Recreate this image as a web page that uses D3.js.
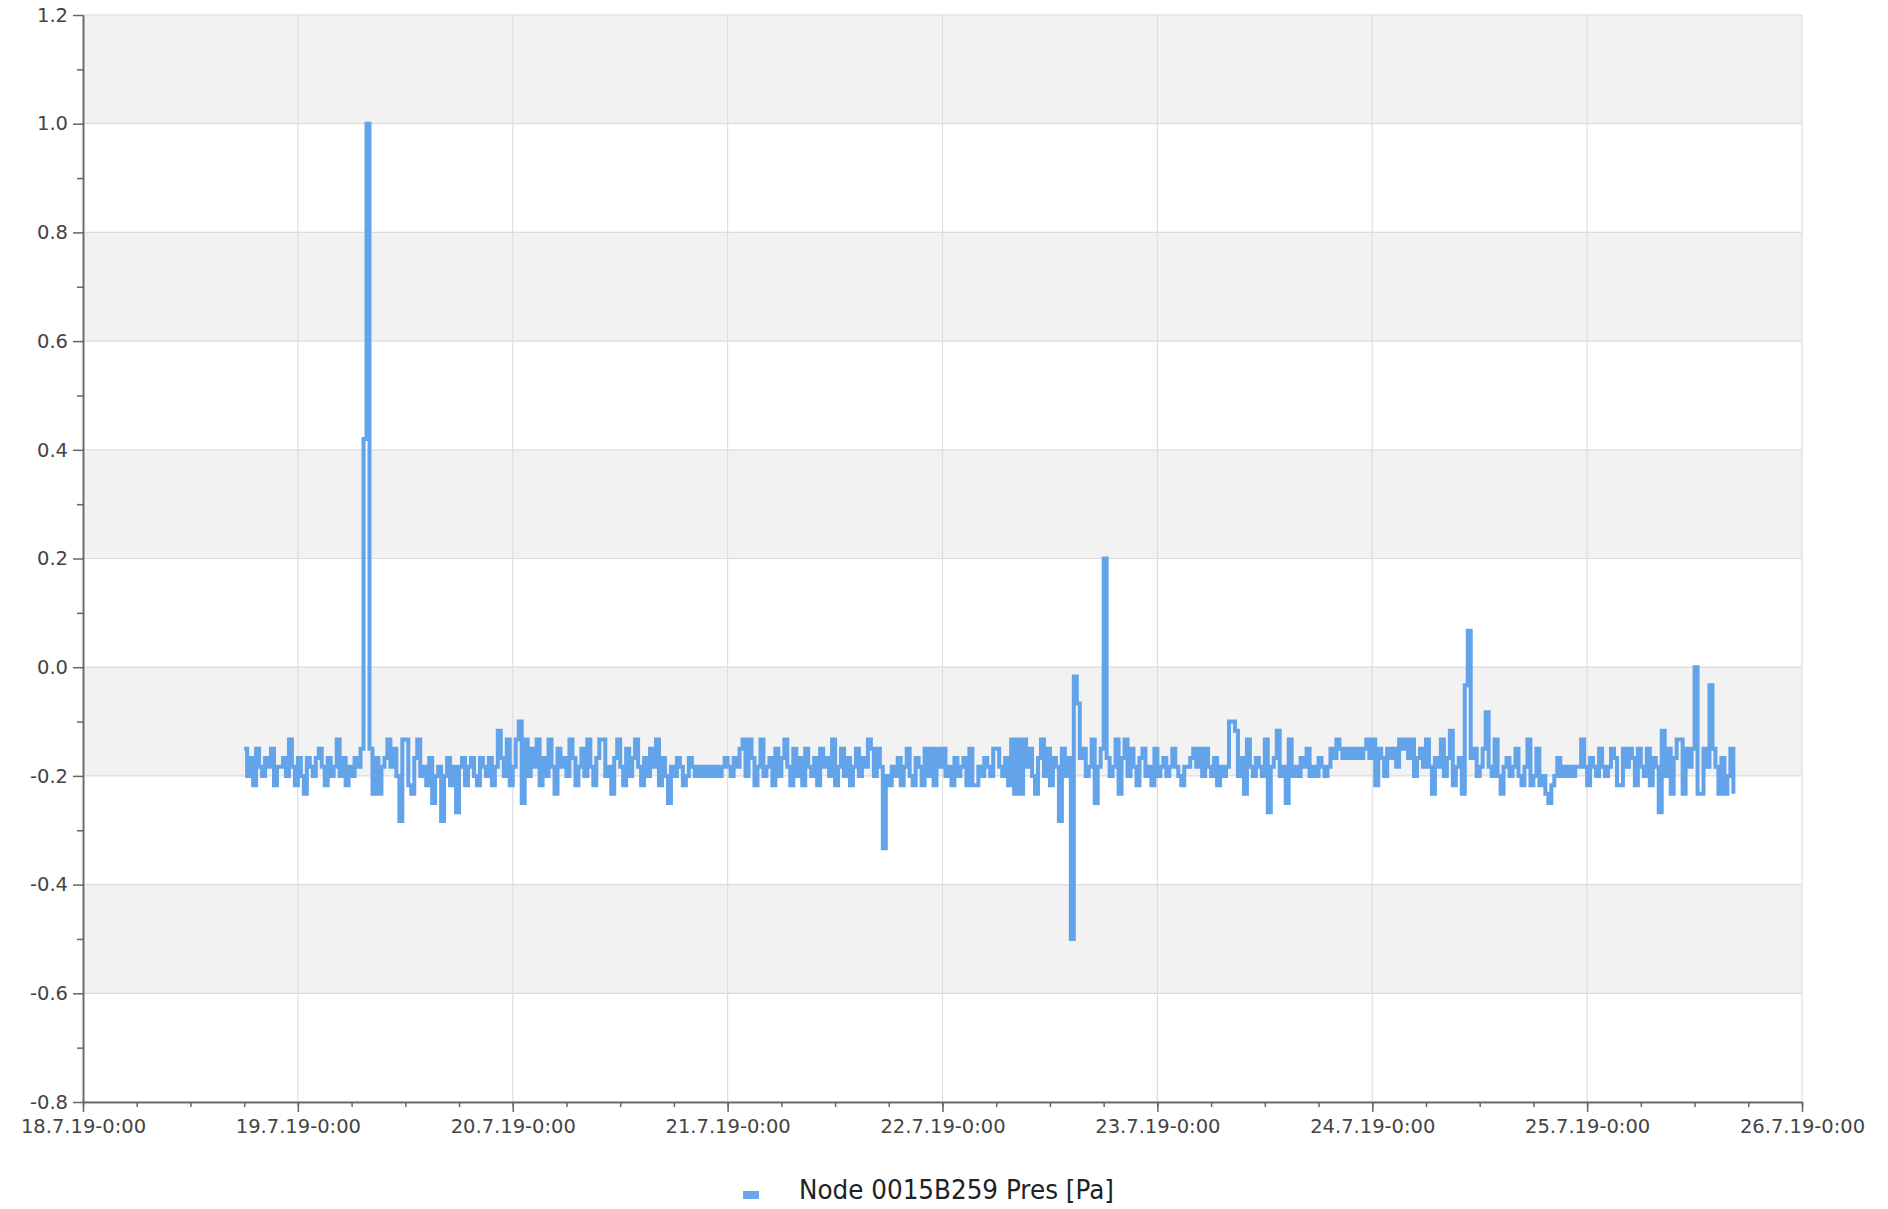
<!DOCTYPE html>
<html>
<head>
<meta charset="utf-8">
<script src="https://cdn.jsdelivr.net/npm/d3@7"></script>
<style>
    body { margin: 0; background: #fff; }
    svg { display: block; font-family: "DejaVu Sans", sans-serif; }
</style>
</head>
<body>
<script>
const width = 1888;
const height = 1209;

// one sample every 20 minutes, starting 18.7.19 18:00
const seriesName = "Node 0015B259 Pres [Pa]";
const startTime = new Date(2019, 6, 18, 18, 0);
const stepMinutes = 20;

const values = [
    -0.15, -0.2, -0.167, -0.217, -0.15, -0.183, -0.2, -0.167, -0.183, -0.15, -0.217, -0.183,
    -0.183, -0.167, -0.2, -0.133, -0.183, -0.217, -0.167, -0.2, -0.233, -0.167, -0.183, -0.2,
    -0.167, -0.15, -0.183, -0.217, -0.167, -0.2, -0.183, -0.133, -0.2, -0.167, -0.217, -0.183,
    -0.2, -0.167, -0.183, -0.15, 0.42, 1.0, -0.15, -0.233, -0.167, -0.233, -0.183, -0.167,
    -0.133, -0.183, -0.15, -0.2, -0.283, -0.133, -0.133, -0.217, -0.233, -0.167, -0.133, -0.2,
    -0.183, -0.217, -0.167, -0.25, -0.2, -0.183, -0.283, -0.2, -0.167, -0.217, -0.183, -0.267,
    -0.183, -0.167, -0.217, -0.183, -0.167, -0.2, -0.217, -0.167, -0.183, -0.2, -0.167, -0.217,
    -0.183, -0.117, -0.167, -0.2, -0.133, -0.217, -0.183, -0.133, -0.1, -0.25, -0.133, -0.2,
    -0.15, -0.183, -0.133, -0.217, -0.167, -0.2, -0.133, -0.183, -0.233, -0.15, -0.183, -0.167,
    -0.2, -0.133, -0.167, -0.217, -0.183, -0.15, -0.2, -0.133, -0.183, -0.217, -0.167, -0.133,
    -0.133, -0.2, -0.183, -0.233, -0.167, -0.133, -0.183, -0.217, -0.15, -0.2, -0.167, -0.133,
    -0.183, -0.217, -0.167, -0.2, -0.15, -0.183, -0.133, -0.217, -0.167, -0.2, -0.25, -0.183,
    -0.2, -0.167, -0.183, -0.217, -0.2, -0.167, -0.183, -0.2, -0.183, -0.2, -0.183, -0.2,
    -0.183, -0.2, -0.183, -0.2, -0.183, -0.167, -0.183, -0.2, -0.167, -0.183, -0.15, -0.133,
    -0.2, -0.133, -0.167, -0.217, -0.183, -0.133, -0.2, -0.183, -0.167, -0.217, -0.15, -0.2,
    -0.167, -0.133, -0.183, -0.217, -0.15, -0.2, -0.167, -0.217, -0.15, -0.183, -0.2, -0.167,
    -0.217, -0.15, -0.183, -0.167, -0.2, -0.133, -0.217, -0.183, -0.15, -0.2, -0.167, -0.217,
    -0.183, -0.15, -0.2, -0.167, -0.183, -0.133, -0.15, -0.2, -0.15, -0.183, -0.333, -0.2,
    -0.217, -0.183, -0.2, -0.167, -0.217, -0.183, -0.15, -0.2, -0.217, -0.167, -0.183, -0.217,
    -0.15, -0.2, -0.15, -0.217, -0.15, -0.183, -0.15, -0.2, -0.183, -0.217, -0.167, -0.2,
    -0.183, -0.167, -0.217, -0.15, -0.217, -0.217, -0.183, -0.2, -0.167, -0.183, -0.2, -0.15,
    -0.15, -0.183, -0.2, -0.167, -0.217, -0.133, -0.233, -0.133, -0.233, -0.133, -0.183, -0.15,
    -0.2, -0.233, -0.167, -0.133, -0.2, -0.15, -0.217, -0.167, -0.183, -0.283, -0.15, -0.2,
    -0.167, -0.5, -0.017, -0.067, -0.167, -0.15, -0.2, -0.183, -0.133, -0.25, -0.183, -0.15,
    0.2, -0.167, -0.2, -0.183, -0.133, -0.233, -0.167, -0.133, -0.2, -0.15, -0.183, -0.217,
    -0.167, -0.15, -0.2, -0.183, -0.217, -0.15, -0.2, -0.183, -0.167, -0.2, -0.183, -0.15,
    -0.183, -0.2, -0.217, -0.183, -0.183, -0.167, -0.15, -0.183, -0.15, -0.2, -0.15, -0.183,
    -0.2, -0.167, -0.217, -0.183, -0.2, -0.183, -0.1, -0.1, -0.117, -0.2, -0.167, -0.233,
    -0.133, -0.183, -0.2, -0.167, -0.183, -0.2, -0.133, -0.267, -0.183, -0.167, -0.117, -0.2,
    -0.183, -0.25, -0.133, -0.2, -0.183, -0.2, -0.167, -0.183, -0.15, -0.2, -0.183, -0.2,
    -0.167, -0.183, -0.2, -0.183, -0.15, -0.167, -0.133, -0.15, -0.167, -0.15, -0.167, -0.15,
    -0.167, -0.15, -0.167, -0.15, -0.133, -0.167, -0.133, -0.217, -0.15, -0.167, -0.2, -0.15,
    -0.167, -0.15, -0.183, -0.133, -0.15, -0.133, -0.167, -0.133, -0.2, -0.167, -0.15, -0.183,
    -0.133, -0.183, -0.233, -0.167, -0.183, -0.133, -0.2, -0.167, -0.117, -0.217, -0.183, -0.167,
    -0.233, -0.033, 0.067, -0.167, -0.15, -0.2, -0.183, -0.15, -0.083, -0.183, -0.2, -0.133,
    -0.2, -0.233, -0.183, -0.167, -0.2, -0.183, -0.15, -0.2, -0.217, -0.183, -0.133, -0.217,
    -0.2, -0.15, -0.217, -0.2, -0.233, -0.25, -0.217, -0.2, -0.167, -0.2, -0.183, -0.2,
    -0.183, -0.2, -0.183, -0.183, -0.133, -0.183, -0.217, -0.167, -0.183, -0.2, -0.15, -0.183,
    -0.2, -0.183, -0.15, -0.167, -0.217, -0.217, -0.15, -0.183, -0.15, -0.167, -0.217, -0.15,
    -0.183, -0.2, -0.15, -0.217, -0.167, -0.183, -0.267, -0.117, -0.2, -0.15, -0.233, -0.167,
    -0.133, -0.133, -0.233, -0.15, -0.183, -0.15, 0.0, -0.233, -0.233, -0.15, -0.183, -0.033,
    -0.15, -0.183, -0.233, -0.167, -0.233, -0.2, -0.15, -0.233
];

const yTicks = [-0.8, -0.6, -0.4, -0.2, 0.0, 0.2, 0.4, 0.6, 0.8, 1.0, 1.2];
const yTickLabels = ["-0.8", "-0.6", "-0.4", "-0.2", "0.0", "0.2", "0.4", "0.6", "0.8", "1.0", "1.2"];
const yMinorTicks = [-0.7, -0.5, -0.3, -0.1, 0.1, 0.3, 0.5, 0.7, 0.9, 1.1];
// shaded horizontal bands [from, to]
const bands = [[1.0, 1.2], [0.6, 0.8], [0.2, 0.4], [-0.2, 0.0], [-0.6, -0.4]];

const xStart = new Date(2019, 6, 18);
const xEnd = new Date(2019, 6, 26);

const margin = { left: 83, right: 86, top: 15, bottom: 107 };

const svg = d3
    .select("body")
    .append("svg")
    .attr("width", width)
    .attr("height", height);

svg.append("rect")
    .attr("width", width)
    .attr("height", height)
    .attr("fill", "#fff");

const x = d3
    .scaleTime()
    .domain([xStart, xEnd])
    .range([margin.left, width - margin.right]);

const y = d3
    .scaleLinear()
    .domain([-0.8, 1.2])
    .range([height - margin.bottom, margin.top]);

const data = values.map((v, i) => ({
    t: d3.timeMinute.offset(startTime, i * stepMinutes),
    v: v
}));

// Fond : bandes grises
svg.append("g")
    .selectAll("rect")
    .data(bands)
    .join("rect")
    .attr("x", x(xStart))
    .attr("width", x(xEnd) - x(xStart))
    .attr("y", d => y(d[1]))
    .attr("height", d => y(d[0]) - y(d[1]))
    .attr("fill", "#f2f2f2");

// Grille
const days = d3.timeDay.range(xStart, d3.timeDay.offset(xEnd, 1));

svg.append("g")
    .selectAll("line")
    .data(yTicks)
    .join("line")
    .attr("x1", x(xStart))
    .attr("x2", x(xEnd))
    .attr("y1", d => y(d))
    .attr("y2", d => y(d))
    .attr("stroke", "#dcdcdc")
    .attr("stroke-width", 1.2);

svg.append("g")
    .selectAll("line")
    .data(days.slice(1))
    .join("line")
    .attr("x1", d => x(d))
    .attr("x2", d => x(d))
    .attr("y1", y(1.2))
    .attr("y2", y(-0.8))
    .attr("stroke", "#dedede")
    .attr("stroke-width", 1.2);

// SÃ©rie
const line = d3
    .line()
    .x(d => x(d.t))
    .y(d => y(d.v))
    .curve(d3.curveStepAfter);

svg.append("path")
    .datum(data)
    .attr("d", line)
    .attr("fill", "none")
    .attr("stroke", "#62a3e9")
    .attr("stroke-width", 4)
    .attr("stroke-linejoin", "miter");

// Axes
const fmt = d3.timeFormat("%-d.%-m.%y-%-H:%M");

function styleAxis(g) {
    g.attr("font-family", "DejaVu Sans, sans-serif")
        .attr("font-size", 19.5);
    g.select(".domain").attr("stroke", "#666").attr("stroke-width", 1.5);
    g.selectAll(".tick line").attr("stroke", "#666").attr("stroke-width", 1.5);
    g.selectAll(".tick text").attr("fill", "#444");
}

svg.append("g")
    .attr("transform", `translate(0,${y(-0.8)})`)
    .call(d3.axisBottom(x)
        .tickValues(d3.timeHour.every(6).range(xStart, d3.timeHour.offset(xEnd, 1)))
        .tickSize(5)
        .tickSizeOuter(0)
        .tickFormat(""))
    .call(styleAxis);

svg.append("g")
    .attr("transform", `translate(0,${y(-0.8)})`)
    .call(d3.axisBottom(x)
        .tickValues(days)
        .tickSize(10)
        .tickSizeOuter(0)
        .tickPadding(7)
        .tickFormat(fmt))
    .call(styleAxis);

svg.append("g")
    .attr("transform", `translate(${x(xStart)},0)`)
    .call(d3.axisLeft(y)
        .tickValues(yMinorTicks)
        .tickSize(6)
        .tickSizeOuter(0)
        .tickFormat(""))
    .call(styleAxis);

svg.append("g")
    .attr("transform", `translate(${x(xStart)},0)`)
    .call(d3.axisLeft(y)
        .tickValues(yTicks)
        .tickSize(10)
        .tickSizeOuter(0)
        .tickPadding(5)
        .tickFormat((d, i) => yTickLabels[i]))
    .call(styleAxis);

// LÃ©gende
svg.append("rect")
    .attr("x", 743)
    .attr("y", 1191)
    .attr("width", 16)
    .attr("height", 8)
    .attr("fill", "#6aa7ea");

svg.append("text")
    .attr("x", 799)
    .attr("y", 1199)
    .attr("font-size", 26)
    .attr("fill", "#222")
    .attr("textLength", 315)
    .attr("lengthAdjust", "spacingAndGlyphs")
    .text(seriesName);
</script>
</body>
</html>
